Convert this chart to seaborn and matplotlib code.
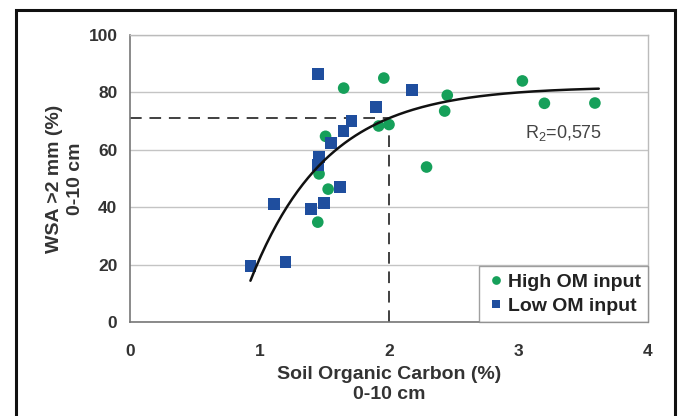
import numpy as np
import pandas as pd
import matplotlib
matplotlib.use("Agg")
import matplotlib.pyplot as plt
import matplotlib.patches as mpatches
import seaborn as sns

# ---- data ----
high_x = [1.65, 1.96, 3.03, 3.20, 3.59, 2.45, 2.43, 1.92, 2.00, 1.51, 1.46, 1.53, 1.45, 2.29]
high_y = [81.5, 85.0, 84.0, 76.2, 76.3, 79.0, 73.5, 68.3, 68.8, 64.7, 51.6, 46.3, 34.8, 54.0]
low_x = [1.45, 2.18, 1.90, 1.71, 1.65, 1.55, 1.46, 1.45, 1.62, 1.50, 1.40, 1.11, 0.93, 1.20]
low_y = [86.4, 80.8, 75.0, 70.0, 66.6, 62.4, 57.5, 54.7, 47.0, 41.5, 39.4, 41.1, 19.5, 20.9]
group_labels = ["High OM input", "Low OM input"]

# fitted curve y = A - B*exp(-k*x)
fit_A, fit_B, fit_k = 82.0, 328.0, 1.698
fit_xmin, fit_xmax = 0.93, 3.62
r2_text = "R$_2$=0,575"
ref_x, ref_y = 2.0, 71.0

x_ticks = [0, 1, 2, 3, 4]
y_ticks = [0, 20, 40, 60, 80, 100]
x_label = "Soil Organic Carbon (%)\n0-10 cm"
y_label = "WSA >2 mm (%)\n0-10 cm"

df = pd.DataFrame({
    "SOC": high_x + low_x,
    "WSA": high_y + low_y,
    "group": [group_labels[0]] * len(high_x) + [group_labels[1]] * len(low_x),
})

sns.set_theme(style="white")
plt.rcParams["font.family"] = ["Liberation Sans", "DejaVu Sans"]
plt.rcParams["mathtext.default"] = "regular"

fig = plt.figure(figsize=(6.8, 4.16), dpi=100)
ax = fig.add_axes([130 / 680, 1 - 322 / 416, (648 - 130) / 680, (322 - 35) / 416])

# grid
ax.set_axisbelow(True)
ax.yaxis.grid(True, color="#c4c4c4", linewidth=1.0)
ax.xaxis.grid(False)

palette = {group_labels[0]: "#16a05a", group_labels[1]: "#1f4e9e"}
markers = {group_labels[0]: "o", group_labels[1]: "s"}
sns.scatterplot(data=df, x="SOC", y="WSA", hue="group", style="group",
                palette=palette, markers=markers, s=70, linewidth=0,
                ax=ax, zorder=3)

# fitted curve
xf = np.linspace(fit_xmin, fit_xmax, 200)
yf = fit_A - fit_B * np.exp(-fit_k * xf)
ax.plot(xf, yf, color="#111111", linewidth=1.8, zorder=4)

# dashed reference lines
ax.plot([0, ref_x], [ref_y, ref_y], color="#404040", linewidth=1.4,
        dashes=(6, 4), zorder=2)
ax.plot([ref_x, ref_x], [0, ref_y], color="#404040", linewidth=1.4,
        dashes=(6, 4), zorder=2)

ax.text(3.05, 65.9, r2_text, fontsize=13, color="#444444", ha="left", va="center")

ax.set_xlim(0, 4)
ax.set_ylim(0, 100)
ax.set_xticks(x_ticks)
ax.set_yticks(y_ticks)
ax.set_xticklabels([str(t) for t in x_ticks], fontweight="bold", fontsize=12.5, color="#333333")
ax.set_yticklabels([str(t) for t in y_ticks], fontweight="bold", fontsize=12.5, color="#333333")
ax.tick_params(axis="both", direction="inout", length=6, width=1, color="#777777", pad=6)
ax.tick_params(axis="x", pad=13)

ax.set_xlabel(x_label, fontweight="bold", fontsize=14, color="#333333", labelpad=5, linespacing=1.25)
ax.set_ylabel(y_label, fontweight="bold", fontsize=14, color="#333333", labelpad=3, linespacing=1.35)

for side in ["left", "bottom"]:
    ax.spines[side].set_color("#777777")
    ax.spines[side].set_linewidth(1.2)
for side in ["top", "right"]:
    ax.spines[side].set_color("#bbbbbb")
    ax.spines[side].set_linewidth(1.0)
    ax.spines[side].set_visible(True)

leg = ax.legend(loc="lower right", frameon=True, fancybox=False,
                prop={"weight": "bold", "size": 14}, handletextpad=0.15,
                handlelength=1.0, borderpad=0.35, labelspacing=0.35,
                borderaxespad=0.0, markerscale=0.75)
leg.get_frame().set_edgecolor("#888888")
leg.get_frame().set_linewidth(1.0)
for t in leg.get_texts():
    t.set_color("#222222")

# outer figure border
border = mpatches.Rectangle((16 / 680, -0.05), (675 - 16) / 680, 1.05 - 10 / 416,
                            transform=fig.transFigure, fill=False,
                            edgecolor="#111111", linewidth=2.2, clip_on=False)
fig.add_artist(border)

fig.savefig("out.png", dpi=100, facecolor="white")
